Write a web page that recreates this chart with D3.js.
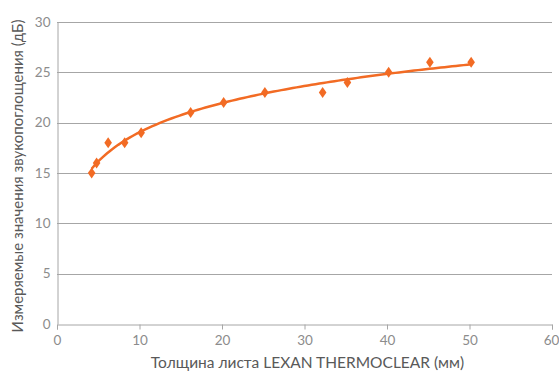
<!doctype html>
<html lang="ru">
<head>
  <meta charset="utf-8">
  <title>Звукопоглощение LEXAN THERMOCLEAR</title>
  <script src="https://cdnjs.cloudflare.com/ajax/libs/d3/7.8.5/d3.min.js"></script>
  <style>
    body { margin: 0; background: #fff; }
    svg text { font-family: "Lato", "Open Sans", sans-serif; }
  </style>
</head>
<body>
<div id="chart"></div>

<script>

// thickness (mm) and measured sound absorption (dB)
const thickness = [4.2, 4.8, 6.2, 8.2, 10.2, 16.2, 20.2, 25.2, 32.2, 35.2, 40.2, 45.2, 50.2]
const absorption = [15, 16, 18, 18, 19, 21, 22, 23, 23, 24, 25, 26, 26]

const xTicks = [0, 10, 20, 30, 40, 50, 60]
const yTicks = [0, 5, 10, 15, 20, 25, 30]

const xTitle = "Толщина листа LEXAN THERMOCLEAR (мм)"
const yTitle = "Измеряемые значения звукопоглощения (дБ)"

const w = 559, h = 374
const margin = { top: 22, right: 7, bottom: 50, left: 57 }

const orange = "#f26b24"

let svg = d3.select("#chart")
  .append("svg")
  .attr("width", w)
  .attr("height", h)

let x = d3.scaleLinear().domain([0, 60]).range([margin.left, w - margin.right])
let y = d3.scaleLinear().domain([0, 30]).range([h - margin.bottom, margin.top])

// horizontal gridlines
svg.append("g")
  .selectAll("line")
  .data(yTicks.slice(1))
  .join("line")
    .attr("x1", x(0))
    .attr("x2", x(60))
    .attr("y1", d => Math.round(y(d)) + 0.5)
    .attr("y2", d => Math.round(y(d)) + 0.5)
    .attr("stroke", "#a6a6a6")
    .attr("stroke-width", 1)

// x axis
let xAxis = svg.append("g")
  .attr("transform", "translate(0," + (Math.round(y(0)) + 0.5) + ")")
  .call(d3.axisBottom(x).tickValues(xTicks).tickSize(5).tickPadding(6))
xAxis.select(".domain").attr("stroke", "#a6a6a6")
xAxis.selectAll(".tick line").attr("stroke", "#a6a6a6")
xAxis.selectAll("text").attr("fill", "#8c8c8c").style("font-size", "13.5px")
// keep the last label inside the picture
xAxis.selectAll(".tick").filter(d => d === 60).select("text").attr("dx", "-1")

// y axis
let yAxis = svg.append("g")
  .attr("transform", "translate(" + (Math.round(x(0)) + 0.5) + ",0)")
  .call(d3.axisLeft(y).tickValues(yTicks).tickSize(0).tickPadding(7))
yAxis.select(".domain").attr("stroke", "#a6a6a6")
yAxis.selectAll("text").attr("fill", "#8c8c8c").style("font-size", "13.5px")

// axis titles
svg.append("text")
  .attr("x", (x(0) + x(60)) / 2 + 3)
  .attr("y", h - 6)
  .attr("text-anchor", "middle")
  .attr("fill", "#595959")
  .style("font-size", "15.5px")
  .text(xTitle)

svg.append("text")
  .attr("transform", "translate(23," + (y(15) + 3) + ") rotate(-90)")
  .attr("text-anchor", "middle")
  .attr("fill", "#595959")
  .style("font-size", "15px")
  .text(yTitle)

// logarithmic trendline, least squares on ln(x)
const lx = thickness.map(Math.log)
const mx = d3.mean(lx), my = d3.mean(absorption)
const slope = d3.sum(lx, (v, i) => (v - mx) * (absorption[i] - my)) / d3.sum(lx, v => (v - mx) * (v - mx))
const icpt = my - slope * mx

const xs = d3.range(0, 101).map(i => thickness[0] + (thickness[thickness.length - 1] - thickness[0]) * i / 100)

svg.append("path")
  .datum(xs)
  .attr("fill", "none")
  .attr("stroke", orange)
  .attr("stroke-width", 2.5)
  .attr("d", d3.line().x(d => x(d)).y(d => y(slope * Math.log(d) + icpt)))

// markers
svg.append("g")
  .selectAll("path")
  .data(thickness)
  .join("path")
    .attr("transform", (d, i) => "translate(" + x(d) + "," + y(absorption[i]) + ")")
    .attr("d", "M0,-5.5L3.8,0L0,5.5L-3.8,0Z")
    .attr("fill", orange)

</script>
</body>
</html>
